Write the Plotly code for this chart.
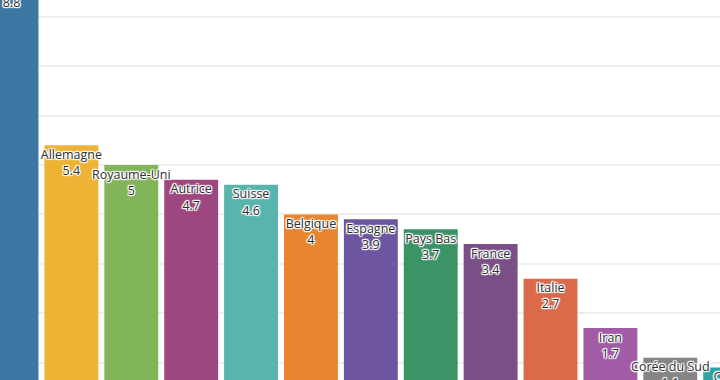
import plotly.graph_objects as go

countries = ["États-Unis", "Allemagne", "Royaume-Uni", "Autrice", "Suisse", "Belgique",
             "Espagne", "Pays Bas", "France", "Italie", "Iran", "Corée du Sud", "Chine"]
values = [8.8, 5.4, 5, 4.7, 4.6, 4, 3.9, 3.7, 3.4, 2.7, 1.7, 1.1, 0.9]
colors = ["#3b77a2", "#eeb334", "#82b55a", "#9e467f", "#59b4ae", "#e8862f",
          "#6d55a0", "#3a9466", "#7a4e87", "#db6a4b", "#a25ba7", "#858585", "#2ea39f"]

labels = [f"{c}<br>{v:g}" for c, v in zip(countries, values)]
x = list(range(len(countries)))

fig = go.Figure()
fig.add_trace(go.Bar(
    x=x, y=values, marker=dict(color=colors, line=dict(width=0)),
    hoverinfo="skip", showlegend=False,
))
halo = ("1px 1px 1px #fff, -1px -1px 1px #fff, 1px -1px 1px #fff, -1px 1px 1px #fff, "
        "0 1px 1px #fff, 0 -1px 1px #fff, 1px 0 1px #fff, -1px 0 1px #fff")
fig.add_trace(go.Scatter(
    x=x, y=values, mode="markers+text", text=labels, textposition="bottom center",
    marker=dict(size=5, color="rgba(0,0,0,0)"),
    textfont=dict(family="Open Sans", size=12.5, color="#2e2e2e", shadow=halo),
    hoverinfo="skip", showlegend=False, cliponaxis=True,
))

fig.update_layout(
    width=720, height=380,
    margin=dict(l=0, r=0, t=0, b=0),
    paper_bgcolor="white", plot_bgcolor="white",
    bargap=0.1,
    hovermode=False,
    xaxis=dict(range=[-0.192, 11.83], showticklabels=False, showgrid=False,
               zeroline=False, showline=False, ticks="", fixedrange=True),
    yaxis=dict(range=[0.648, 8.34], showticklabels=False, showgrid=True,
               gridcolor="#eeeeee", gridwidth=1.5, dtick=1, tick0=0,
               zeroline=False, showline=False, ticks="", fixedrange=True),
)

fig.write_html("out.html", config={"displayModeBar": False},
               post_script="document.body.style.margin='0';")
